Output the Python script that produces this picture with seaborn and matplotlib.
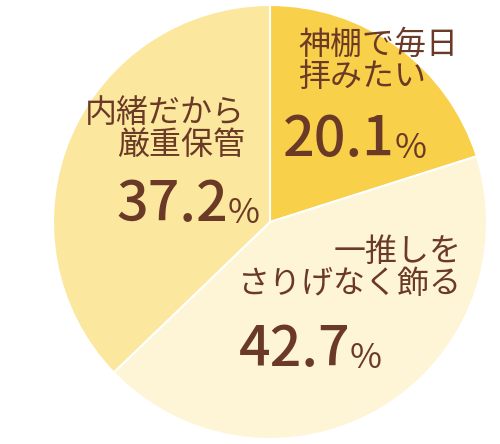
import matplotlib
matplotlib.use("Agg")
import matplotlib.pyplot as plt
import seaborn as sns

sns.set_theme(style="white")
plt.rcParams['font.family'] = ['Noto Sans CJK JP', 'DejaVu Sans']

labels = ["神棚で毎日\n拝みたい", "一推しを\nさりげなく飾る", "内緒だから\n厳重保管"]
values = [20.1, 42.7, 37.2]
colors = ["#F8D04A", "#FEF5D6", "#FBE79E"]

brown = "#6B3A26"

fig = plt.figure(figsize=(5, 4.44), dpi=100)
ax = fig.add_axes([0.106, 0.011, 0.868, 0.978])
ax.pie(values, colors=colors, startangle=90, counterclock=False,
       wedgeprops=dict(edgecolor="white", linewidth=1.5))
ax.set_xlim(-1, 1)
ax.set_ylim(-1, 1)
ax.set_aspect("equal")
ax.axis("off")

# label positions (data coords), alignment
label_pos = [(0.13, 0.74, "left"), (0.885, -0.21, "right"), (-0.115, 0.43, "right")]
pct_pos = [(0.576, 0.378), (0.369, -0.59), (-0.194, 0.078)]

for lab, v, (lx, ly, ha), (px, py) in zip(labels, values, label_pos, pct_pos):
    ax.text(lx, ly, lab, ha=ha, va="center", multialignment=ha,
            fontsize=23, color=brown, linespacing=1.0)
    ax.text(px, py, f"{v:.1f}", ha="right", va="center", fontsize=40,
            color=brown, fontweight="medium")
    ax.text(px, py - 0.04, "%", ha="left", va="center", fontsize=25,
            color=brown)

fig.savefig("out.png", dpi=100)
